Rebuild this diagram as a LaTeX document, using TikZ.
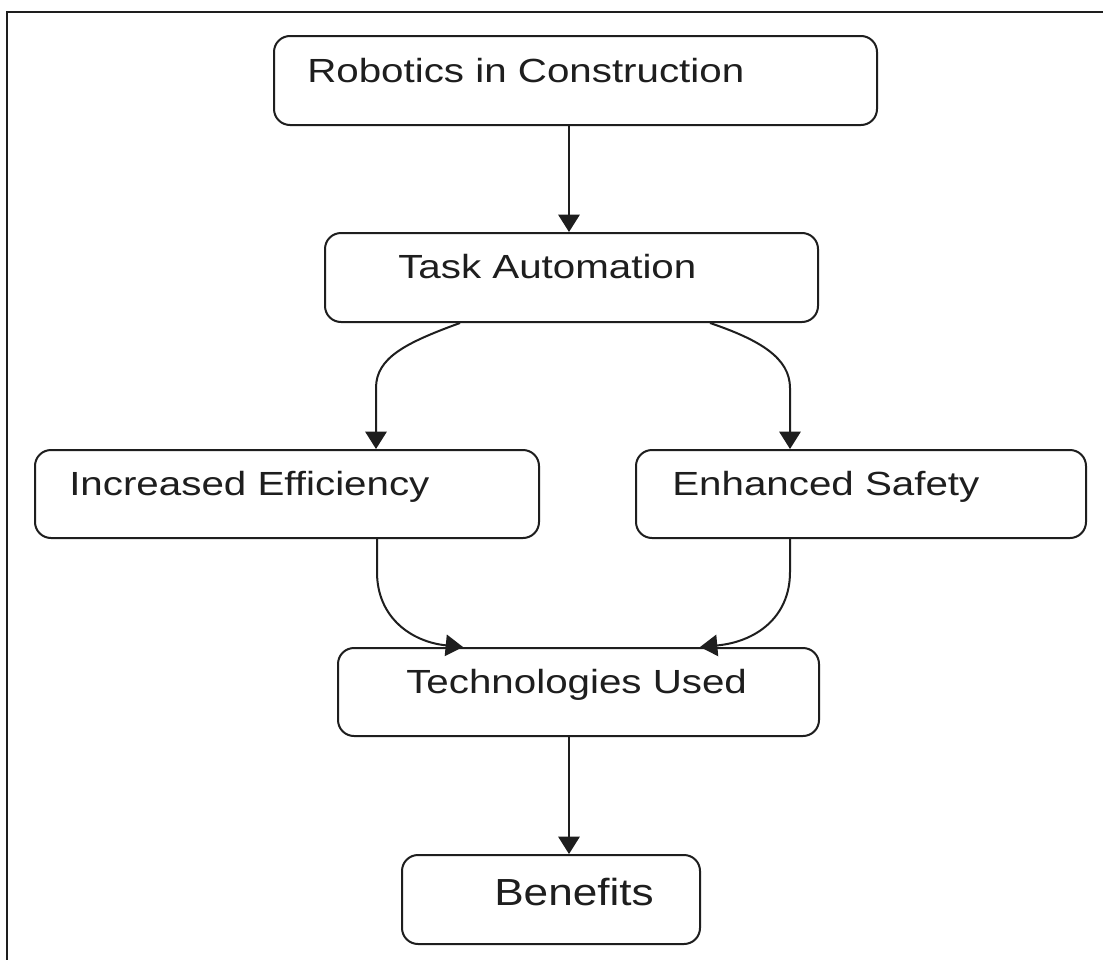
\documentclass[tikz,border=0pt]{standalone}
\usepackage{fontspec}
\newfontfamily\labfont[FakeStretch=1.205]{Liberation Sans}
\newfontfamily\bigfont[FakeStretch=1.17]{Liberation Sans}
\usetikzlibrary{arrows.meta,calc}
\definecolor{ink}{HTML}{1E1E1E}
\tikzset{
  box/.style={draw=ink, line width=1.5pt, rounded corners=12pt, inner sep=0pt, fill=white},
  lbl/.style={anchor=base west, inner sep=0pt, text=ink, font=\labfont\fontsize{25.1pt}{30pt}\selectfont},
  biglbl/.style={lbl, font=\bigfont\fontsize{28.3pt}{34pt}\selectfont},
  conn/.style={draw=ink, line width=1.5pt, -{Triangle[length=13pt,width=16pt]}}
}
\begin{document}
\begin{tikzpicture}[x=0.75pt,y=-0.75pt]
\useasboundingbox (0,0) rectangle (1103,960);
\fill[white] (0,0) rectangle (1103,960);
\draw[ink, line width=1.5pt] (7,12) rectangle (1120,980);

\node[box, minimum width=452.25pt, minimum height=66.75pt] (rob) at (575.5,80.5) {};
\node[box, minimum width=369.75pt, minimum height=66.75pt] (task) at (571.5,277.5) {};
\node[box, minimum width=378pt, minimum height=66pt] (eff) at (287,494) {};
\node[box, minimum width=337.5pt, minimum height=66pt] (saf) at (861,494) {};
\node[box, minimum width=360.75pt, minimum height=66pt] (tech) at (578.5,692) {};
\node[box, minimum width=223.5pt, minimum height=66.75pt] (ben) at (551,899.5) {};

\node[lbl] (robt) at (307,82) {Robotics in Construction};
\node[lbl] (taskt) at (398,278) {Task Automation};
\node[lbl] (efft) at (69,495) {Increased Efficiency};
\node[lbl] (saft) at (672,495) {Enhanced Safety};
\node[lbl] (techt) at (406,693) {Technologies Used};
\node[biglbl] (bent) at (494,905) {Benefits};

\draw[conn] (rob.south -| 569,0) -- (task.north -| 569,0);
\draw[conn] ($(task.south)+(-111.5,0)$) .. controls (405,343) and (376,358) .. (376,388) -- (eff.north -| 376,0);
\draw[conn] ($(task.south)+(138.5,0)$) .. controls (760,340) and (790,358) .. (790,388) -- (saf.north -| 790,0);
\draw[conn] (eff.south -| 377,0) -- (377,572) .. controls (377,618) and (412,642) .. ($(tech.north)+(-115.5,0)$);
\draw[conn] (saf.south -| 790,0) -- (790,572) .. controls (790,618) and (755,642) .. ($(tech.north)+(121.5,0)$);
\draw[conn] (tech.south -| 569,0) -- (ben.north -| 569,0);
\end{tikzpicture}
\end{document}
